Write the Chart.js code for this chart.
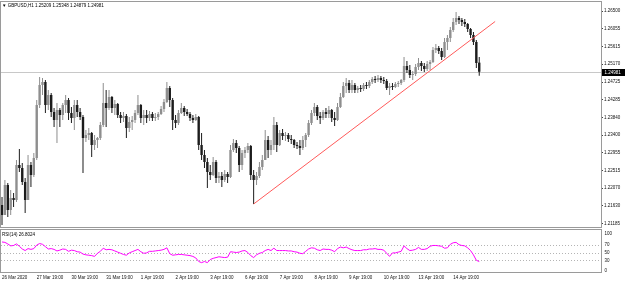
<!DOCTYPE html>
<html>
<head>
<meta charset="utf-8">
<title>GBPUSD,H1</title>
<script src="https://cdn.jsdelivr.net/npm/chart.js@4.4.1/dist/chart.umd.min.js"></script>
<style>
  html, body { margin: 0; padding: 0; background: #fff; overflow: hidden; }
  #wrap { position: relative; width: 625px; height: 283px; }
  canvas { position: absolute; left: 0; }
  #main { top: 0; }
  #rsi { top: 229px; }
  .lbl { position: absolute; font: 4.5px 'Liberation Sans', Arial, sans-serif; line-height: 5px; color: #000; white-space: nowrap; }
</style>
</head>
<body>
<div id="wrap">
  <canvas id="main" width="625" height="229"></canvas>
  <canvas id="rsi" width="625" height="54"></canvas>
  <div class="lbl" id="title" style="left:2px;top:2.5px"></div>
  <div class="lbl" id="rsiTitle" style="left:2px;top:232px"></div>
</div>
<script>
// GBPUSD H1, one candle per 2 hours
const opens = [
  1.21650, 1.21400, 1.22150, 1.21525, 1.21825, 1.21775, 1.22650, 1.22575, 1.22225, 1.21775,
  1.22650, 1.22400, 1.22825, 1.24150, 1.24650, 1.24725, 1.24150, 1.24400, 1.23975, 1.23775,
  1.24025, 1.23900, 1.24150, 1.24275, 1.23950, 1.23825, 1.24150, 1.23975, 1.23850, 1.23325,
  1.23400, 1.23450, 1.23150, 1.23275, 1.23325, 1.23650, 1.24200, 1.24075, 1.24350, 1.24075,
  1.24175, 1.23900, 1.23825, 1.23875, 1.23575, 1.23725, 1.23775, 1.23950, 1.24150, 1.23825,
  1.23900, 1.23825, 1.23925, 1.23825, 1.23850, 1.23925, 1.24050, 1.24225, 1.24575, 1.24275,
  1.23775, 1.23700, 1.23950, 1.24075, 1.23975, 1.23925, 1.23825, 1.23775, 1.23850, 1.23150,
  1.22900, 1.22725, 1.22475, 1.22400, 1.22725, 1.22325, 1.22375, 1.22275, 1.22425, 1.22350,
  1.23025, 1.23200, 1.23075, 1.22650, 1.22950, 1.23025, 1.23125, 1.22400, 1.22275, 1.22375,
  1.22600, 1.22775, 1.23275, 1.23025, 1.23150, 1.23650, 1.23150, 1.23450, 1.23375, 1.23400,
  1.23300, 1.23275, 1.23150, 1.23125, 1.23075, 1.23275, 1.23400, 1.23700, 1.23950, 1.24100,
  1.23875, 1.23825, 1.23975, 1.23925, 1.24025, 1.23825, 1.23775, 1.24100, 1.24350, 1.24625,
  1.24700, 1.24525, 1.24650, 1.24525, 1.24575, 1.24550, 1.24650, 1.24625, 1.24725, 1.24800,
  1.24775, 1.24825, 1.24775, 1.24750, 1.24575, 1.24625, 1.24600, 1.24675, 1.24700, 1.24775,
  1.25125, 1.25025, 1.24900, 1.24925, 1.25100, 1.25200, 1.25125, 1.25050, 1.25175, 1.25225,
  1.25525, 1.25575, 1.25500, 1.25350, 1.25725, 1.25825, 1.26025, 1.26225, 1.26325, 1.26275,
  1.26225, 1.26175, 1.26050, 1.25900, 1.25725, 1.25209
];
const highs = [
  1.21850, 1.22275, 1.22200, 1.22025, 1.21950, 1.22775, 1.23050, 1.22700, 1.22325, 1.22900,
  1.22725, 1.22950, 1.24275, 1.24850, 1.24825, 1.24775, 1.24525, 1.24450, 1.24075, 1.24200,
  1.24075, 1.24200, 1.24400, 1.24325, 1.24100, 1.24275, 1.24275, 1.24075, 1.23900, 1.23525,
  1.23575, 1.23475, 1.23400, 1.23350, 1.23725, 1.24700, 1.24525, 1.24525, 1.24375, 1.24275,
  1.24200, 1.23975, 1.23975, 1.23925, 1.23850, 1.23875, 1.24025, 1.24400, 1.24175, 1.24025,
  1.24025, 1.24000, 1.23975, 1.23950, 1.23975, 1.24125, 1.24300, 1.24725, 1.24625, 1.24325,
  1.23900, 1.24025, 1.24200, 1.24125, 1.24050, 1.23975, 1.23900, 1.23925, 1.23875, 1.23450,
  1.23025, 1.22825, 1.22650, 1.22850, 1.22775, 1.22475, 1.22475, 1.22525, 1.22475, 1.23150,
  1.23300, 1.23275, 1.23125, 1.23025, 1.23100, 1.23200, 1.23150, 1.22525, 1.22475, 1.22725,
  1.22900, 1.23525, 1.23375, 1.23275, 1.23850, 1.23725, 1.23525, 1.23550, 1.23475, 1.23450,
  1.23400, 1.23300, 1.23225, 1.23275, 1.23375, 1.23450, 1.23775, 1.24025, 1.24200, 1.24150,
  1.23975, 1.24025, 1.24075, 1.24125, 1.24050, 1.23975, 1.24200, 1.24450, 1.24725, 1.24825,
  1.24775, 1.24775, 1.24700, 1.24625, 1.24650, 1.24700, 1.24725, 1.24775, 1.24850, 1.24875,
  1.24900, 1.24875, 1.24850, 1.24800, 1.24700, 1.24700, 1.24725, 1.24750, 1.24800, 1.25350,
  1.25250, 1.25150, 1.25000, 1.25175, 1.25325, 1.25250, 1.25200, 1.25250, 1.25275, 1.25600,
  1.25675, 1.25625, 1.25575, 1.25825, 1.25900, 1.26100, 1.26325, 1.26475, 1.26375, 1.26325,
  1.26300, 1.26200, 1.26075, 1.25975, 1.25775, 1.25348
];
const lows = [
  1.21150, 1.21450, 1.21350, 1.21400, 1.21600, 1.21725, 1.22475, 1.22150, 1.21450, 1.21775,
  1.22100, 1.22350, 1.22775, 1.24075, 1.24400, 1.23950, 1.24025, 1.23850, 1.23600, 1.23200,
  1.23600, 1.23775, 1.23950, 1.23775, 1.23700, 1.23525, 1.23850, 1.23775, 1.22450, 1.23225,
  1.23275, 1.22850, 1.23025, 1.23075, 1.23275, 1.23600, 1.23600, 1.24025, 1.23950, 1.23900,
  1.23825, 1.23700, 1.23725, 1.23325, 1.23475, 1.23525, 1.23700, 1.23900, 1.23700, 1.23650,
  1.23700, 1.23750, 1.23750, 1.23750, 1.23775, 1.23900, 1.23975, 1.24200, 1.24100, 1.23525,
  1.23575, 1.23650, 1.23925, 1.23875, 1.23875, 1.23750, 1.23700, 1.23750, 1.23025, 1.22775,
  1.22575, 1.22075, 1.22275, 1.22375, 1.22200, 1.22200, 1.22100, 1.22225, 1.22200, 1.22325,
  1.22975, 1.22950, 1.22475, 1.22525, 1.22825, 1.22950, 1.22275, 1.21675, 1.22150, 1.22325,
  1.22525, 1.22775, 1.22825, 1.22900, 1.23025, 1.22975, 1.23125, 1.23275, 1.23250, 1.23225,
  1.23175, 1.23075, 1.23050, 1.22900, 1.23025, 1.23100, 1.23350, 1.23650, 1.23875, 1.23775,
  1.23675, 1.23775, 1.23825, 1.23825, 1.23725, 1.23625, 1.23750, 1.24075, 1.24325, 1.24450,
  1.24450, 1.24450, 1.24450, 1.24450, 1.24475, 1.24500, 1.24550, 1.24575, 1.24675, 1.24700,
  1.24725, 1.24700, 1.24675, 1.24525, 1.24400, 1.24525, 1.24575, 1.24600, 1.24650, 1.24725,
  1.24950, 1.24825, 1.24775, 1.24875, 1.25025, 1.25000, 1.24975, 1.25000, 1.25025, 1.25200,
  1.25450, 1.25425, 1.25275, 1.25325, 1.25525, 1.25725, 1.25975, 1.26150, 1.26175, 1.26125,
  1.26100, 1.25975, 1.25825, 1.25650, 1.25075, 1.24879
];
const closes = [
  1.21400, 1.22150, 1.21525, 1.21825, 1.21775, 1.22650, 1.22575, 1.22225, 1.21775, 1.22650,
  1.22400, 1.22825, 1.24150, 1.24650, 1.24725, 1.24150, 1.24400, 1.23975, 1.23775, 1.24025,
  1.23900, 1.24150, 1.24275, 1.23950, 1.23825, 1.24150, 1.23975, 1.23850, 1.23325, 1.23400,
  1.23450, 1.23150, 1.23275, 1.23325, 1.23650, 1.24200, 1.24075, 1.24350, 1.24075, 1.24175,
  1.23900, 1.23825, 1.23875, 1.23575, 1.23725, 1.23775, 1.23950, 1.24150, 1.23825, 1.23900,
  1.23825, 1.23925, 1.23825, 1.23850, 1.23925, 1.24050, 1.24225, 1.24575, 1.24275, 1.23775,
  1.23700, 1.23950, 1.24075, 1.23975, 1.23925, 1.23825, 1.23775, 1.23850, 1.23150, 1.22900,
  1.22725, 1.22475, 1.22400, 1.22725, 1.22325, 1.22375, 1.22275, 1.22425, 1.22350, 1.23025,
  1.23200, 1.23075, 1.22650, 1.22950, 1.23025, 1.23125, 1.22400, 1.22275, 1.22375, 1.22600,
  1.22775, 1.23275, 1.23025, 1.23150, 1.23650, 1.23150, 1.23450, 1.23375, 1.23400, 1.23300,
  1.23275, 1.23150, 1.23125, 1.23075, 1.23275, 1.23400, 1.23700, 1.23950, 1.24100, 1.23875,
  1.23825, 1.23975, 1.23925, 1.24025, 1.23825, 1.23775, 1.24100, 1.24350, 1.24625, 1.24700,
  1.24525, 1.24650, 1.24525, 1.24575, 1.24550, 1.24650, 1.24625, 1.24725, 1.24800, 1.24775,
  1.24825, 1.24775, 1.24750, 1.24575, 1.24625, 1.24600, 1.24675, 1.24700, 1.24775, 1.25125,
  1.25025, 1.24900, 1.24925, 1.25100, 1.25200, 1.25125, 1.25050, 1.25175, 1.25225, 1.25525,
  1.25575, 1.25500, 1.25350, 1.25725, 1.25825, 1.26025, 1.26225, 1.26325, 1.26275, 1.26225,
  1.26175, 1.26050, 1.25900, 1.25725, 1.25200, 1.24981
];
// RSI(14) as drawn in the lower window
const rsi = [
  77, 76, 72, 67, 68, 72, 66, 59, 55, 60,
  58, 60, 69, 73, 71, 65, 59, 60, 58, 54,
  56, 59, 58, 53, 56, 55, 52, 51, 46, 44,
  43, 42, 40, 48, 53, 61, 57, 58, 57, 54,
  51, 48, 45, 43, 49, 52, 55, 58, 52, 48,
  49, 53, 53, 54, 55, 56, 58, 62, 47, 43,
  44, 45, 45, 44, 43, 42, 40, 36, 27, 24,
  27, 24, 32, 35, 37, 39, 38, 37, 38, 52,
  51, 50, 51, 54, 55, 50, 42, 37, 44, 48,
  50, 55, 58, 55, 61, 55, 55, 55, 55, 54,
  54, 52, 51, 48, 47, 53, 59, 62, 61, 57,
  55, 59, 58, 58, 56, 52, 60, 64, 62, 64,
  60, 57, 55, 55, 55, 57, 57, 59, 59, 60,
  58, 58, 56, 48, 40, 49, 49, 51, 53, 67,
  60, 55, 56, 58, 63, 58, 58, 60, 66, 68,
  68, 67, 66, 61, 62, 71, 75, 76, 70, 68,
  67, 62, 55, 44, 30, 26.8024
];
// trendline anchors: candle index and price
const trendIdx = [87, 170.5];
const trendPrice = [1.21675, 1.26238];
// axis ticks
const priceTicks = [1.26500, 1.26055, 1.25615, 1.25170, 1.24725, 1.24285, 1.23840,
  1.23400, 1.22955, 1.22515, 1.22070, 1.21630, 1.21185];
const rsiLevels = [70, 50, 30];
const rsiAxisLabels = [100, 70, 50, 30, 0];
const timeTickIdx = [0, 12, 24, 36, 48, 60, 72, 84, 96, 108, 120, 132, 144, 156];
const timeLabels = ['26 Mar 2020', '27 Mar 19:00', '30 Mar 19:00', '31 Mar 19:00', '1 Apr 19:00',
  '2 Apr 19:00', '3 Apr 19:00', '6 Apr 19:00', '7 Apr 19:00', '8 Apr 19:00', '9 Apr 19:00',
  '10 Apr 19:00', '13 Apr 19:00', '14 Apr 19:00'];

const FONT = "'Liberation Sans', Arial, sans-serif";
const tiny = { family: FONT, size: 4.5, lineHeight: 1.2 };
const xMin = -0.35, xMax = 207.1;
const last = closes.length - 1;

document.getElementById('title').textContent =
  '\u25BC GBPUSD,H1  ' + [opens[last], highs[last], lows[last], closes[last]].map(v => v.toFixed(5)).join(' ');
document.getElementById('rsiTitle').textContent = 'RSI(14) ' + rsi[last].toFixed(4);

const isUp = closes.map((c, i) => c >= opens[i]);
const candleColor = isUp.map(u => u ? '#8e8e8e' : '#1c1c1c');
const wicks = closes.map((c, i) => ({ x: i, y: [lows[i], highs[i]] }));
const bodies = closes.map((c, i) => ({ x: i, y: [Math.min(opens[i], c), Math.max(opens[i], c)] }));

function frame(ctx, a) {
  ctx.save();
  ctx.strokeStyle = '#9a9a9a';
  ctx.lineWidth = 1;
  ctx.strokeRect(a.left - 0.5, a.top - 0.5, a.right - a.left + 1, a.bottom - a.top + 1);
  ctx.restore();
}

const mainDecor = {
  id: 'mainDecor',
  beforeDatasetsDraw(chart) {
    const { ctx, chartArea: a, scales: { y } } = chart;
    const py = Math.round(y.getPixelForValue(closes[last])) + 0.5;
    ctx.save();
    ctx.strokeStyle = '#c8c8c8';
    ctx.lineWidth = 1;
    ctx.beginPath();
    ctx.moveTo(a.left, py);
    ctx.lineTo(a.right, py);
    ctx.stroke();
    ctx.restore();
  },
  afterDraw(chart) {
    const { ctx, chartArea: a, scales: { y } } = chart;
    frame(ctx, a);
    const py = Math.round(y.getPixelForValue(closes[last]));
    ctx.save();
    ctx.fillStyle = '#000';
    ctx.fillRect(a.right + 1, py - 3, chart.width - a.right - 1, 7);
    ctx.fillStyle = '#fff';
    ctx.font = '4.5px ' + FONT;
    ctx.textBaseline = 'middle';
    ctx.fillText(closes[last].toFixed(5), a.right + 3.5, py + 0.5);
    ctx.restore();
  }
};

new Chart(document.getElementById('main'), {
  type: 'bar',
  data: {
    datasets: [
      {
        type: 'line',
        data: trendIdx.map((x, k) => ({ x: x, y: trendPrice[k] })),
        borderColor: '#ff5a5a',
        borderWidth: 1,
        pointRadius: 0,
        order: 0
      },
      {
        data: bodies,
        backgroundColor: candleColor,
        barThickness: 2.4,
        minBarLength: 1,
        grouped: false,
        inflateAmount: 0,
        order: 1
      },
      {
        data: wicks,
        backgroundColor: candleColor,
        barThickness: 1,
        grouped: false,
        inflateAmount: 0,
        order: 2
      }
    ]
  },
  options: {
    responsive: false,
    animation: false,
    devicePixelRatio: 1,
    layout: { padding: { left: 1, top: 2, right: 0, bottom: 2 } },
    plugins: { legend: { display: false }, tooltip: { enabled: false } },
    scales: {
      x: { type: 'linear', min: xMin, max: xMax, offset: false, display: false },
      y: {
        position: 'right',
        min: 1.21100,
        max: 1.26725,
        afterBuildTicks: s => { s.ticks = priceTicks.map(v => ({ value: v })); },
        afterFit: s => { s.width = 24; s.paddingTop = 0; s.paddingBottom = 0; },
        border: { display: true, color: '#8c8c8c' },
        grid: { drawOnChartArea: false, tickLength: 2, color: '#444' },
        ticks: { font: tiny, color: '#111', padding: 1, callback: v => v.toFixed(5) }
      }
    }
  },
  plugins: [mainDecor]
});

const rsiDecor = {
  id: 'rsiDecor',
  beforeDatasetsDraw(chart) {
    const { ctx, chartArea: a, scales: { y } } = chart;
    ctx.save();
    ctx.strokeStyle = '#b4b4b4';
    ctx.lineWidth = 1;
    ctx.setLineDash([1, 2]);
    rsiLevels.forEach(v => {
      const py = Math.round(y.getPixelForValue(v)) + 0.5;
      ctx.beginPath();
      ctx.moveTo(a.left, py);
      ctx.lineTo(a.right, py);
      ctx.stroke();
    });
    ctx.restore();
  },
  afterDraw(chart) {
    const { ctx, chartArea: a, scales: { y } } = chart;
    frame(ctx, a);
    ctx.save();
    ctx.fillStyle = '#111';
    ctx.font = '4.5px ' + FONT;
    ctx.textBaseline = 'middle';
    rsiAxisLabels.forEach(v => {
      const py = Math.min(Math.max(y.getPixelForValue(v), a.top + 4), a.bottom - 1);
      ctx.fillText(String(v), a.right + 3.5, py);
    });
    ctx.restore();
  }
};

new Chart(document.getElementById('rsi'), {
  type: 'line',
  data: {
    datasets: [{
      data: rsi.map((v, i) => ({ x: i, y: v })),
      borderColor: '#ff00ff',
      borderWidth: 1,
      pointRadius: 0,
      tension: 0
    }]
  },
  options: {
    responsive: false,
    animation: false,
    devicePixelRatio: 1,
    layout: { padding: { left: 1, top: 1, right: 0, bottom: 0 } },
    plugins: { legend: { display: false }, tooltip: { enabled: false } },
    scales: {
      x: {
        type: 'linear',
        min: xMin,
        max: xMax,
        offset: false,
        afterBuildTicks: s => { s.ticks = timeTickIdx.map(v => ({ value: v })); },
        afterFit: s => { s.height = 11; s.paddingLeft = 0; s.paddingRight = 0; },
        grid: { display: false, drawTicks: false, tickLength: 0 },
        border: { display: false },
        ticks: {
          font: tiny, color: '#111', padding: 3, align: 'start',
          autoSkip: false, maxRotation: 0, minRotation: 0,
          callback: (v, k) => timeLabels[k]
        }
      },
      y: {
        position: 'right',
        min: 0,
        max: 107.7,
        afterFit: s => { s.width = 24; s.paddingTop = 0; s.paddingBottom = 0; },
        border: { display: true, color: '#8c8c8c' },
        grid: { display: false },
        ticks: { display: false }
      }
    }
  },
  plugins: [rsiDecor]
});
</script>
</body>
</html>
